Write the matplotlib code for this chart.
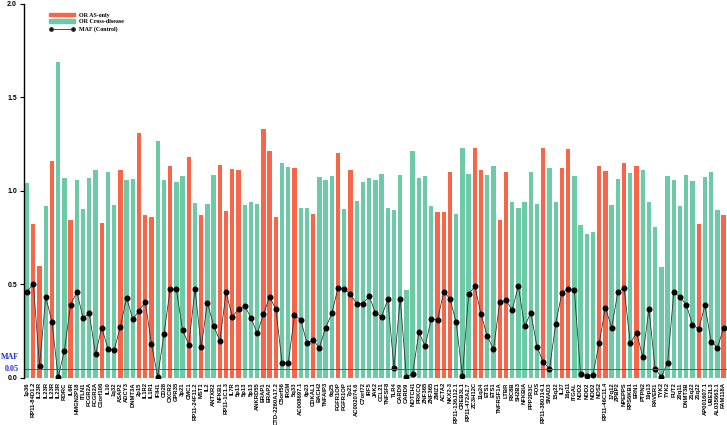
import matplotlib.pyplot as plt
from matplotlib.patches import Patch
from matplotlib.lines import Line2D

genes = ['1p36', 'RP11-84D1.2', 'IL23R', 'IL23R', 'IL23R', 'IL23R', 'RORC', 'IL6R', 'HMGN2P18', 'ITLN1',
         'FCGR2A', 'FCGR2A', 'C1orf106', 'IL10', '1q32', 'ASAP2', 'ADCY3', 'DNMT3A', '2p15', 'IL1R2',
         'IL1R1', 'IFIH1', 'CD28', 'CXCR2', 'GPR35', '3p21', 'CMC1', 'RP11-24F11.2', 'MST1', 'IL2',
         'ANTXR2', 'NFKB1', 'RP11-1C1.3', 'IL7R', '5p13', '5p13', '5p13', 'ANKRD55', 'ERAP1', 'ERAP2',
         'CTD-2260A17.2', 'C5orf56', 'IRGM', '5q33', 'AC008697.1', '6p23', 'CDKAL1', 'BACH2', 'TNFAIP3', '6q25',
         'FGFR1OP', 'FGFR1OP', '7p21', 'AC002074.6', 'C7orf72', 'IRF5', 'JAK2', 'CCL21', 'TNFSF8', 'TLR4',
         'CARD9', 'CARD9', 'NOTCH1', 'PRKCQ', 'ZNF365', 'ZNF365', 'ZMIZ1', 'ACTA2', 'NKX2-3', 'RP11-136J12.1',
         'CREB3L1', 'RP11-472A2.7', 'ZC3H12C', '11q24', 'ETS1', 'ETS1', 'TNFRSF1A', 'LTBR', 'RIC8B', 'SH2B3',
         'NFKBIA', 'PPP2R3C', 'FOS', 'RP11-380J14.1', 'SMAD3', '15q22', 'IL27', '16p11', 'ITGAL', 'NOD2',
         'NOD2', 'NOD2', 'NOS2', 'RP11-46C11.4', '17q12', 'ZPBP2', 'NPEPPS', 'RPS6KB1', 'ERN1', 'PTPN2',
         '19p13', 'RAVER1', 'TYK2', 'TYK2', 'FUT2', '20q11', 'DNMT3B', '21q22', '21q22', 'AP001607.1',
         'UBE2L3', 'AL035663.1', 'FAM118A']

odds_ratio = [1.044, 0.826, 0.60, 0.92, 1.16, 1.69, 1.07, 0.845, 1.06, 0.906,
              1.07, 1.11, 0.83, 1.10, 0.927, 1.11, 1.057, 1.062, 1.31, 0.87,
              0.863, 1.27, 1.06, 1.135, 1.05, 1.08, 1.18, 0.936, 0.87, 0.93,
              1.085, 1.14, 0.893, 1.117, 1.11, 0.923, 0.941, 0.932, 1.333, 1.212,
              0.863, 1.148, 1.126, 1.123, 0.909, 0.911, 0.875, 1.075, 1.059, 1.08,
              1.203, 0.902, 1.112, 0.947, 1.048, 1.068, 1.06, 1.089, 0.911, 0.897,
              1.084, 0.472, 1.212, 1.068, 1.082, 0.922, 0.888, 0.888, 1.103, 0.875,
              1.228, 1.091, 1.228, 1.11, 1.084, 1.132, 0.847, 1.103, 0.941, 0.911,
              0.94, 1.10, 0.932, 1.23, 1.125, 0.943, 1.123, 1.226, 1.078, 0.82,
              0.769, 0.781, 1.133, 1.109, 0.925, 1.062, 1.148, 1.096, 1.135, 1.112,
              0.941, 0.806, 0.594, 1.08, 1.06, 0.92, 1.087, 1.052, 0.822, 1.077,
              1.10, 0.90, 0.87]

# bar numbers (1-based) that are AS-only, the rest are cross-disease
as_only = [2, 3, 5, 8, 13, 16, 19, 20, 21, 24, 27, 29, 32, 33, 34, 35, 39, 40, 41, 44,
           47, 51, 53, 67, 68, 69, 73, 74, 77, 78, 84, 87, 88, 93, 94, 97, 99, 109, 113]

maf = [0.461, 0.505, 0.064, 0.434, 0.299, 0.004, 0.147, 0.393, 0.459, 0.322,
       0.345, 0.126, 0.270, 0.156, 0.149, 0.274, 0.429, 0.313, 0.360, 0.406,
       0.183, 0.007, 0.233, 0.474, 0.474, 0.256, 0.178, 0.474, 0.167, 0.402,
       0.279, 0.199, 0.458, 0.328, 0.369, 0.386, 0.322, 0.238, 0.340, 0.434,
       0.369, 0.082, 0.082, 0.336, 0.310, 0.188, 0.201, 0.163, 0.268, 0.345,
       0.482, 0.477, 0.447, 0.398, 0.398, 0.438, 0.349, 0.328, 0.420, 0.055,
       0.425, 0.003, 0.024, 0.244, 0.172, 0.315, 0.310, 0.461, 0.424, 0.297,
       0.012, 0.447, 0.491, 0.341, 0.224, 0.153, 0.404, 0.415, 0.365, 0.491,
       0.277, 0.349, 0.167, 0.085, 0.048, 0.288, 0.456, 0.477, 0.470, 0.020,
       0.013, 0.018, 0.188, 0.375, 0.270, 0.459, 0.482, 0.185, 0.242, 0.113,
       0.369, 0.046, 0.007, 0.082, 0.458, 0.434, 0.391, 0.286, 0.261, 0.388,
       0.194, 0.163, 0.265]

red = '#F8664A'
green = '#6CCBA6'
x = list(range(len(genes)))
colors = [red if (i + 1) in as_only else green for i in x]

fig = plt.figure(figsize=(7.27, 4.25), dpi=100)
ax = fig.add_axes([0.033, 0.1106, 0.967, 0.88])

ax.bar(x, odds_ratio, width=0.7, color=colors, linewidth=0)
ax.plot(x, maf, '-', color='#333333', lw=0.6, marker='o', markersize=3.3,
        markerfacecolor='black', markeredgecolor='black')
ax.axhline(0.05, color='#3050ff', lw=0.7)

ax.set_xlim(-0.5, len(genes) - 0.45)
ax.set_ylim(0, 2.0)
ax.set_yticks([0.0, 0.5, 1.0, 1.5, 2.0])
ax.set_yticklabels(['0.0', '0.5', '1.0', '1.5', '2.0'], fontsize=5,
                   fontweight='bold', family='Liberation Sans')
ax.tick_params(axis='y', length=3, width=0.8, pad=2)
ax.set_xticks(x)
ax.set_xticklabels(genes, rotation=90, fontsize=4.2, fontweight='bold', family='Liberation Sans')
ax.tick_params(axis='x', length=0, pad=3)

for s in ['top', 'right', 'bottom']:
    ax.spines[s].set_visible(False)
ax.spines['left'].set_linewidth(1.0)

# MAF 0.05 annotation on the left
ax.text(-1.3, 0.05, '0.05', color='#2a2ad8', fontsize=5.8, fontweight='bold',
        family='Liberation Serif', ha='right', va='center', clip_on=False)
ax.text(-1.3, 0.11, 'MAF', color='#2a2ad8', fontsize=5.8, fontweight='bold',
        family='Liberation Serif', ha='right', va='center', clip_on=False)

handles = [Patch(color=red), Patch(color=green),
           Line2D([], [], color='#333333', lw=0.6, marker='o', markersize=2.5,
                  markerfacecolor='black')]
ax.legend(handles, ['OR AS-only', 'OR Cross-disease', 'MAF (Control)'],
          loc='upper left', bbox_to_anchor=(0.032, 0.985), frameon=False,
          prop={'family': 'Liberation Serif', 'weight': 'bold', 'size': 4.3},
          handlelength=4.3, handleheight=0.6, labelspacing=0.3, numpoints=2,
          handletextpad=0.6, borderpad=0)

fig.savefig('out.png', dpi=100)
